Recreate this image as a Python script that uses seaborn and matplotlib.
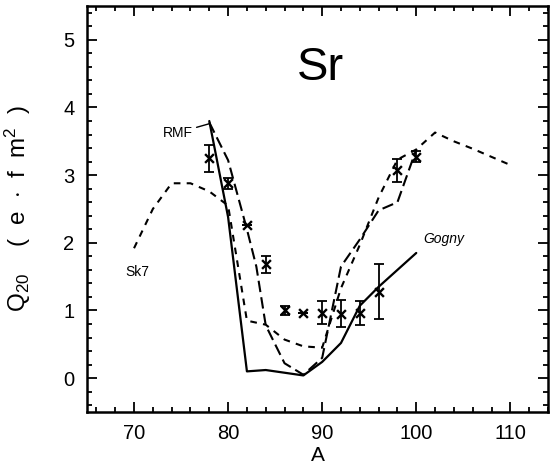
import matplotlib
matplotlib.use("Agg")
import matplotlib.pyplot as plt
import seaborn as sns
import pandas as pd
from matplotlib.ticker import MultipleLocator

# Measured quadrupole moments of Sr isotopes
A_exp = [78, 80, 82, 84, 86, 88, 90, 92, 94, 96, 98, 100]
Q_exp = [3.25, 2.88, 2.26, 1.68, 1.00, 0.96, 0.97, 0.95, 0.96, 1.28, 3.07, 3.27]
dQ_exp = [0.20, 0.08, 0.00, 0.13, 0.06, 0.00, 0.17, 0.20, 0.18, 0.40, 0.17, 0.08]

# Gogny calculation
A_gogny = [78, 80, 82, 84, 86, 88, 90, 92, 94, 96, 98, 100]
Q_gogny = [3.80, 2.38, 0.10, 0.12, 0.08, 0.04, 0.24, 0.52, 1.07, 1.35, 1.60, 1.85]

# Relativistic mean field
A_rmf = [78, 80, 82, 83, 84, 86, 88, 90, 92, 94, 96, 98, 100]
Q_rmf = [3.78, 3.22, 2.20, 1.65, 0.78, 0.22, 0.05, 0.30, 1.65, 2.05, 2.48, 2.60, 3.38]

# Skyrme Sk7
A_sk7 = [70, 72, 74, 76, 78, 80, 82, 84, 86, 88, 90, 92, 94, 96, 98, 100,
         102, 104, 106, 108, 110]
Q_sk7 = [1.92, 2.50, 2.88, 2.88, 2.76, 2.55, 0.85, 0.79, 0.57, 0.47, 0.45, 1.33,
         1.97, 2.67, 3.23, 3.38, 3.63, 3.50, 3.39, 3.27, 3.15]

x_ticks = [70, 80, 90, 100, 110]
y_ticks = [0, 1, 2, 3, 4, 5]

sns.set_theme(style="ticks")
plt.rcParams['font.family'] = ['Liberation Sans', 'DejaVu Sans']
plt.rcParams['mathtext.fontset'] = 'custom'
plt.rcParams['mathtext.rm'] = 'Liberation Sans'
plt.rcParams['mathtext.it'] = 'Liberation Sans:italic'
for key in ("text.color", "axes.labelcolor", "xtick.color", "ytick.color",
            "axes.edgecolor"):
    plt.rcParams[key] = "black"

fig = plt.figure(figsize=(5.53, 4.76), dpi=100)
ax = fig.add_axes([0.1573, 0.1345, 0.8336, 0.8529])

gogny = pd.DataFrame({"A": A_gogny, "Q": Q_gogny})
rmf = pd.DataFrame({"A": A_rmf, "Q": Q_rmf})
sk7 = pd.DataFrame({"A": A_sk7, "Q": Q_sk7})

sns.lineplot(data=gogny, x="A", y="Q", ax=ax, color="black", lw=1.6,
             sort=False, estimator=None)
sns.lineplot(data=rmf, x="A", y="Q", ax=ax, color="black", lw=1.5,
             sort=False, estimator=None)
ax.lines[-1].set_dashes([5.5, 2.5])
sns.lineplot(data=sk7, x="A", y="Q", ax=ax, color="black", lw=1.5,
             sort=False, estimator=None)
ax.lines[-1].set_dashes([3.2, 3.0])

ax.errorbar(A_exp, Q_exp, yerr=dQ_exp, fmt="none", ecolor="black",
            elinewidth=1.3, capsize=3.5, capthick=1.3)
sns.scatterplot(x=A_exp, y=Q_exp, ax=ax, marker="x", color="black", s=40,
                linewidth=1.7, zorder=5)

ax.set_xlim(65, 114)
ax.set_ylim(-0.5, 5.5)
ax.set_xticks(x_ticks)
ax.set_yticks(y_ticks)
ax.xaxis.set_minor_locator(MultipleLocator(2))
ax.yaxis.set_minor_locator(MultipleLocator(0.2))
ax.tick_params(which="both", direction="in", top=True, right=True,
               color="black", width=1.3)
ax.tick_params(which="major", length=7, labelsize=14.5, pad=9)
ax.tick_params(which="minor", length=3.5)
for s in ax.spines.values():
    s.set_linewidth(1.8)
    s.set_color("black")

ax.set_xlabel("A", fontsize=15, labelpad=2)
ax.set_ylabel(r"Q$_{\mathregular{20}}$    (  e  $\cdot$  f  m$^{\mathregular{2}}$  )",
              fontsize=17.5)
ax.yaxis.set_label_coords(-0.118, 0.5)

ax.text(89.8, 4.41, "Sr", fontsize=34, ha="center", va="baseline")
ax.text(70.3, 1.57, "Sk7", fontsize=10, ha="center", va="center")
ax.text(100.7, 2.0, "Gogny", fontsize=10, ha="left", va="baseline",
        style="italic")
ax.annotate("RMF", xy=(78.0, 3.76), xytext=(76.3, 3.63), fontsize=10,
            ha="right", va="center",
            arrowprops=dict(arrowstyle="-", color="black", lw=1.0,
                            shrinkA=0, shrinkB=0))

fig.savefig("out.png", dpi=100)
